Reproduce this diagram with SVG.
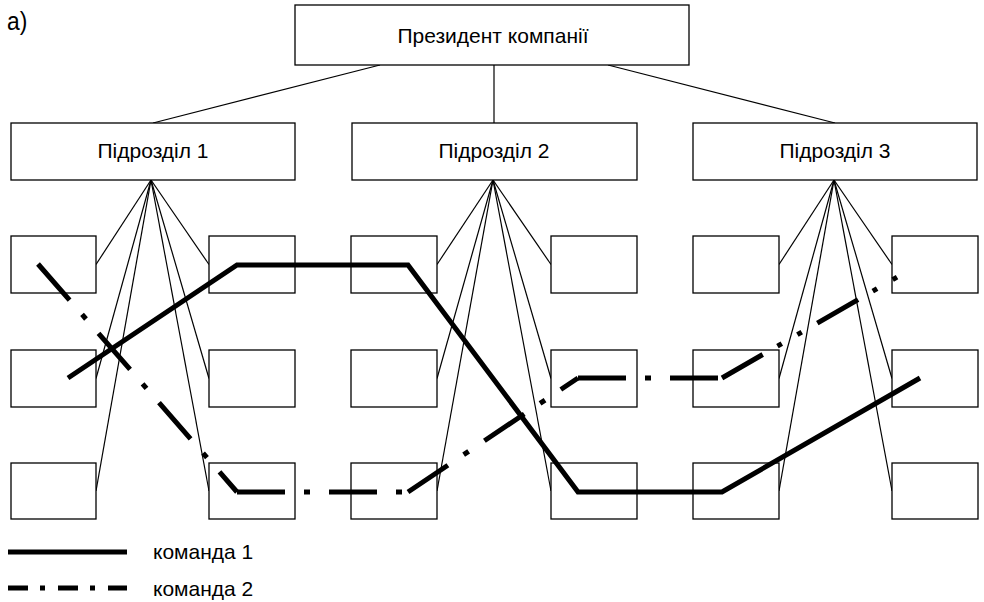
<svg xmlns="http://www.w3.org/2000/svg" width="984" height="602" viewBox="0 0 984 602">
<style>
.box{fill:#fff;stroke:#000;stroke-width:1.3}
.lbl{font-family:"Liberation Sans",Arial,sans-serif;font-size:21px;fill:#000;text-anchor:middle}
.leg{font-family:"Liberation Sans",Arial,sans-serif;font-size:21px;fill:#000}
.thin{stroke:#000;stroke-width:1.2;fill:none}
.t1{stroke:#000;stroke-width:5;fill:none;stroke-linejoin:miter}
.t2{stroke:#000;stroke-width:5;fill:none;stroke-dasharray:48 19 6 19}
</style>
<rect width="984" height="602" fill="#fff"/>
<text x="7" y="30" font-family="'Liberation Sans',Arial,sans-serif" font-size="24" transform="translate(7 30) scale(0.95 1.1) translate(-7 -30)">a)</text>

<g id="connectors">
  <g class="thin">
    <line x1="380" y1="65" x2="153" y2="123"/>
    <line x1="494" y1="65" x2="494" y2="123"/>
    <line x1="608" y1="65" x2="835" y2="123"/>
    <!-- fan 1 -->
    <line x1="151" y1="180" x2="96" y2="264.5"/>
    <line x1="151" y1="180" x2="96" y2="378.5"/>
    <line x1="151" y1="180" x2="96" y2="491"/>
    <line x1="151" y1="180" x2="209" y2="264.5"/>
    <line x1="151" y1="180" x2="209" y2="378.5"/>
    <line x1="151" y1="180" x2="209" y2="491"/>
    <!-- fan 2 -->
    <line x1="493" y1="180" x2="437" y2="264.5"/>
    <line x1="493" y1="180" x2="437" y2="378.5"/>
    <line x1="493" y1="180" x2="437" y2="491"/>
    <line x1="493" y1="180" x2="551" y2="264.5"/>
    <line x1="493" y1="180" x2="551" y2="378.5"/>
    <line x1="493" y1="180" x2="551" y2="491"/>
    <!-- fan 3 -->
    <line x1="834" y1="180" x2="779" y2="264.5"/>
    <line x1="834" y1="180" x2="779" y2="378.5"/>
    <line x1="834" y1="180" x2="779" y2="491"/>
    <line x1="834" y1="180" x2="892" y2="264.5"/>
    <line x1="834" y1="180" x2="892" y2="378.5"/>
    <line x1="834" y1="180" x2="892" y2="491"/>
  </g>
</g>

<g id="president"><rect class="box" x="295" y="5" width="394" height="60"/><text class="lbl" x="493" y="43">Президент компанії</text></g>
<g id="sub1"><rect class="box" x="11" y="123" width="284" height="57"/><text class="lbl" x="153" y="158">Підрозділ 1</text></g>
<g id="sub2"><rect class="box" x="352" y="123" width="285" height="57"/><text class="lbl" x="494" y="158">Підрозділ 2</text></g>
<g id="sub3"><rect class="box" x="693" y="123" width="284" height="57"/><text class="lbl" x="835" y="158">Підрозділ 3</text></g>

<g id="u1a"><rect class="box" x="11" y="236" width="85" height="57"/></g>
<g id="u1b"><rect class="box" x="11" y="350" width="85" height="57"/></g>
<g id="u1c"><rect class="box" x="11" y="463" width="85" height="56"/></g>
<g id="u1d"><rect class="box" x="209" y="236" width="86" height="57"/></g>
<g id="u1e"><rect class="box" x="209" y="350" width="86" height="57"/></g>
<g id="u1f"><rect class="box" x="209" y="463" width="86" height="56"/></g>
<g id="u2a"><rect class="box" x="351" y="236" width="86" height="57"/></g>
<g id="u2b"><rect class="box" x="351" y="350" width="86" height="57"/></g>
<g id="u2c"><rect class="box" x="351" y="463" width="86" height="56"/></g>
<g id="u2d"><rect class="box" x="551" y="236" width="86" height="57"/></g>
<g id="u2e"><rect class="box" x="551" y="350" width="86" height="57"/></g>
<g id="u2f"><rect class="box" x="551" y="463" width="86" height="56"/></g>
<g id="u3a"><rect class="box" x="693" y="236" width="86" height="57"/></g>
<g id="u3b"><rect class="box" x="693" y="350" width="86" height="57"/></g>
<g id="u3c"><rect class="box" x="693" y="463" width="86" height="56"/></g>
<g id="u3d"><rect class="box" x="892" y="236" width="86" height="57"/></g>
<g id="u3e"><rect class="box" x="892" y="350" width="86" height="57"/></g>
<g id="u3f"><rect class="box" x="892" y="463" width="86" height="56"/></g>

<g id="teams">
  <polyline class="t1" points="68,378 237,265 408,265 578,492 722,492 920,378"/>
  <line class="t2" x1="38" y1="264" x2="237" y2="492"/>
  <line class="t2" x1="237" y1="492" x2="408" y2="492"/>
  <line class="t2" x1="408" y1="492" x2="578" y2="378"/>
  <line class="t2" x1="578" y1="378" x2="722" y2="378"/>
  <line class="t2" x1="722" y1="378" x2="906" y2="272" style="stroke-dasharray:47 17 5 18 5 18"/>
</g>

<g id="legend">
  <line x1="8" y1="552" x2="127" y2="552" stroke="#000" stroke-width="5"/>
  <text class="leg" x="153" y="559">команда 1</text>
  <line x1="8" y1="588" x2="127" y2="588" stroke="#000" stroke-width="5" stroke-dasharray="20 12 5 13"/>
  <text class="leg" x="153" y="596">команда 2</text>
</g>
</svg>
